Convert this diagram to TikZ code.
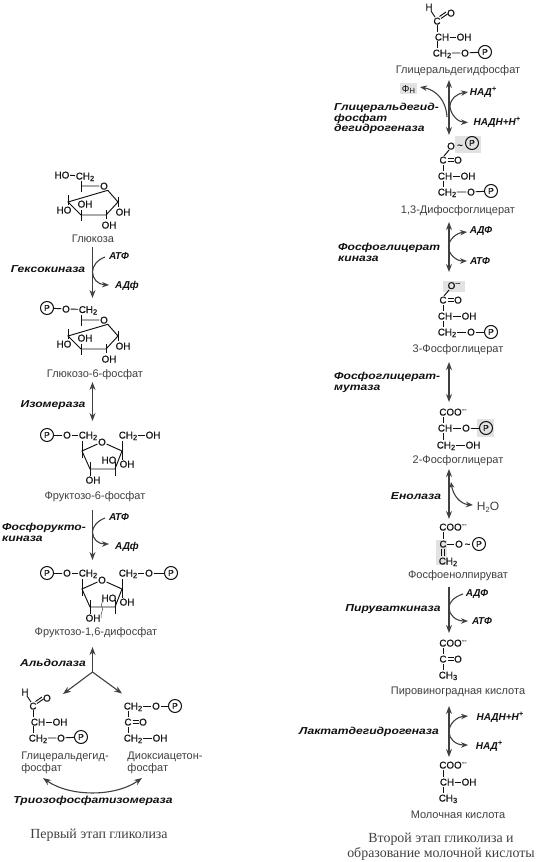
\documentclass[tikz,border=0pt]{standalone}
\usepackage{fontspec}
\setmainfont{Liberation Sans}
\newfontfamily\enzf[FakeStretch=1.2]{Liberation Sans}
\newfontfamily\capf{Liberation Serif}
\newfontfamily\chemf[FakeBold=0.5]{Liberation Sans}
\usetikzlibrary{arrows.meta}
\definecolor{ink}{HTML}{111111}
\definecolor{arr}{HTML}{404040}
\definecolor{shade}{HTML}{E2E2E2}
\newcommand{\ssb}[1]{\raisebox{-0.3ex}{\fontsize{7.5}{8}\selectfont #1}}
\newcommand{\ssp}[1]{\raisebox{0.7ex}{\fontsize{7.5}{8}\selectfont #1}}
\newcommand{\NN}[4]{\node[chem] (#1) at (#2,#3) {#4};}
\newcommand{\PP}[3]{\node[pcirc] (#1) at (#2,#3) {P};}
\newcommand{\LL}[4]{\node[lab] (#1) at (#2,#3) {#4};}
\newcommand{\EE}[4]{\node[enz] (#1) at (#2,#3) {#4};}
\newcommand{\CO}[3]{% C=O group
  \NN{#1c}{#2}{#3}{C}\NN{#1o}{\the\numexpr#2+15\relax}{#3}{O}
  \draw[bond] (#2+4.5,#3-1.3) -- (#2+10.5,#3-1.3);
  \draw[bond] (#2+4.5,#3+1.3) -- (#2+10.5,#3+1.3);}
% pyranose ring
\newcommand{\GluRing}{%
  \NN{ro}{104}{186}{O}
  \draw[bond] (81,186) -- (ro) -- (118,202) -- (106,215) -- (81,215) -- (68,202) -- cycle;
  \draw[bond] (81,181) -- (81,192);
  \draw[bond] (118,197) -- (118,207);
  \draw[bond] (106,210) -- (106,219);
  \draw[bond] (81,210) -- (81,221);
  \draw[bond] (68,195) -- (68,205);
  \NN{a}{64}{210}{HO}\NN{b}{85}{204}{OH}\NN{c}{123}{212}{OH}\NN{d}{109}{225}{OH}}
% furanose ring
\newcommand{\FruRing}{%
  \NN{ro}{102}{442}{O}
  \draw[bond] (ro) -- (82,451) -- (90,469) -- (115,469) -- (122,451) -- (ro);
  \draw[bond] (82,441) -- (82,458);
  \draw[bond] (122,441) -- (122,460);
  \draw[bond] (90,462) -- (90,476);
  \draw[bond] (115,462) -- (115,476);
  \NN{a}{109}{460}{HO}\NN{b}{127}{464}{OH}\NN{c}{93}{480}{OH}
  \NN{l1}{88}{435}{CH\ssb{2}}\NN{l2}{67}{435}{O}\PP{l3}{47}{435}
  \NN{r1}{128}{435}{CH\ssb{2}}
  \draw[bond] (l1) -- (l2) -- (l3);}
% glyceraldehyde phosphate
\newcommand{\GAP}{%
  \NN{h}{25}{692}{H}\NN{c}{33}{706}{C}\NN{o}{47}{698}{O}
  \NN{ch}{38}{722}{CH}\NN{oh}{60}{722}{OH}
  \NN{ct}{38}{738}{CH\ssb{2}}\NN{ot}{61}{738}{O}\PP{p}{81}{737}
  \draw[bond] (27,696) -- (31,702);
  \draw[bond] (35.5,701.5) -- (42,697);
  \draw[bond] (37,703.5) -- (43.5,699);
  \draw[bond] (33,710) -- (33,717);
  \draw[bond] (33,726) -- (33,733);
  \draw[bond] (ch) -- (oh);
  \draw[bond] (ct) -- (ot) -- (p);}
\tikzset{
  chem/.style={inner sep=0.6pt,text=ink,font=\chemf\fontsize{9.8}{10}\selectfont,text height=7pt,text depth=0pt},
  pcirc/.style={circle,draw=ink,line width=1pt,inner sep=0pt,minimum size=13pt,text=ink,font=\chemf\fontsize{8.6}{9}\selectfont},
  bond/.style={draw=ink,line width=0.95pt},
  lab/.style={inner sep=0pt,text=arr,font=\fontsize{11}{12}\selectfont,align=left,anchor=center},
  enz/.style={inner sep=0pt,text=ink,font=\enzf\bfseries\itshape\fontsize{10.1}{10.6}\selectfont,align=left},
  cof/.style={inner sep=0pt,text=ink,font=\bfseries\itshape\fontsize{10}{11}\selectfont},
  rx/.style={draw=arr,line width=1.1pt,-{Stealth[length=8pt,width=6pt]}},
  rxx/.style={draw=arr,line width=1.1pt,{Stealth[length=8pt,width=6pt]}-{Stealth[length=8pt,width=6pt]}},
  side/.style={draw=arr,line width=1.1pt,-{Stealth[length=7pt,width=5.5pt]}},
  gbox/.style={fill=shade,draw=none},
  ttl/.style={inner sep=0pt,text=arr,font=\capf\fontsize{13.9}{14.6}\selectfont,align=center}
}
\begin{document}
\begin{tikzpicture}[x=1pt,y=-1pt]
\useasboundingbox (0,0) rectangle (537,862);
\fill[white] (0,0) rectangle (537,862);
% shaded patches
\node[gbox,minimum width=17pt,minimum height=11pt,inner sep=0pt] (s1) at (408.5,88.5) {};
\node[gbox,minimum width=26pt,minimum height=17pt,inner sep=0pt] (s2) at (468,144.5) {};
\node[gbox,minimum width=22pt,minimum height=11pt,inner sep=0pt] (s3) at (454,286.5) {};
\node[gbox,minimum width=17pt,minimum height=18pt,inner sep=0pt] (s4) at (485.5,428) {};
\node[gbox,minimum width=11pt,minimum height=25pt,inner sep=0pt] (s5) at (441.5,552.5) {};

% ---------- left column ----------
% glucose
\begin{scope}[name prefix=glu-]
  \GluRing
  \NN{ho}{62}{175}{HO}\NN{ch}{85}{176}{CH\ssb{2}}
  \draw[bond] (ho) -- (ch);
\end{scope}
\LL{lglu}{93}{239}{Глюкоза}
% glucose-6-phosphate
\begin{scope}[shift={(0,134)},name prefix=g6-]
  \GluRing
  \NN{ch}{88}{175.5}{CH\ssb{2}}\NN{o}{66}{175}{O}\PP{p}{47}{174}
  \draw[bond] (ch) -- (o) -- (p);
\end{scope}
\LL{lg6}{95}{375}{Глюкозо-6-фосфат}
% fructose-6-phosphate
\begin{scope}[name prefix=f6-]
  \FruRing
  \NN{r2}{153}{435}{OH}
  \draw[bond] (r1) -- (r2);
\end{scope}
\LL{lf6}{95}{497}{Фруктозо-6-фосфат}
% fructose-1,6-diphosphate
\begin{scope}[shift={(0,138)},name prefix=fd-]
  \FruRing
  \NN{r2}{149}{435}{O}\PP{r3}{171}{435}
  \draw[bond] (r1) -- (r2) -- (r3);
  \draw[draw=arr,line width=0.5pt] (102,461) .. controls (104,464) and (100,466) .. (102,469) .. controls (104,472) and (100,475) .. (101,480);
\end{scope}
\LL{lfd}{96}{633}{Фруктозо-1,6-дифосфат}
% GAP (left)
\begin{scope}[name prefix=gl-]
  \GAP
\end{scope}
\LL{lgap}{65}{763}{Глицеральдегид-\\фосфат}
% DHAP
\begin{scope}[name prefix=dh-]
  \NN{c1}{133}{706}{CH\ssb{2}}\NN{o1}{156}{706}{O}\PP{p}{175}{706}
  \CO{k}{128}{722}
  \NN{c3}{133}{738}{CH\ssb{2}}\NN{oh}{160}{738}{OH}
  \draw[bond] (c1) -- (o1) -- (p);
  \draw[bond] (c3) -- (oh);
  \draw[bond] (128,711) -- (128,717);
  \draw[bond] (128,727) -- (128,733);
\end{scope}
\LL{ldh}{165}{763}{Диоксиацетон-\\фосфат}

% reaction arrows left
\coordinate (a1s) at (92.5,247); \coordinate (a1e) at (92.5,298);
\draw[rx] (a1s) -- (a1e);
\node[cof] (a1i) at (119,256) {АТФ}; \node[cof] (a1o) at (127,286) {АДф};
\coordinate (a1a) at (105,257); \coordinate (a1b) at (109,285);
\draw[side] (a1a) .. controls (97,260) and (92.5,266) .. (92.5,272) .. controls (92.5,279) and (98,284.5) .. (a1b);
\EE{e1}{48}{269}{Гексокиназа}

\coordinate (a2s) at (92.5,382); \coordinate (a2e) at (92.5,421);
\draw[rxx] (a2s) -- (a2e);
\EE{e2}{53}{405}{Изомераза}

\coordinate (a3s) at (92.5,510); \coordinate (a3e) at (92.5,560);
\draw[rx] (a3s) -- (a3e);
\node[cof] (a3i) at (119,517) {АТФ}; \node[cof] (a3o) at (127,547) {АДф};
\coordinate (a3a) at (105,518); \coordinate (a3b) at (109,544);
\draw[side] (a3a) .. controls (97,521) and (92.5,527) .. (92.5,532) .. controls (92.5,539) and (98,544) .. (a3b);
\node[enz,anchor=west] (e3) at (2,532.5) {Фосфорукто-\\киназа};

\coordinate (j) at (92.5,672); \coordinate (jt) at (92.5,647);
\coordinate (jl) at (63,694); \coordinate (jr) at (122,693.5);
\draw[rx] (j) -- (jt); \draw[rx] (j) -- (jl); \draw[rx] (j) -- (jr);
\EE{e4}{53}{663}{Альдолаза}

\coordinate (ti1) at (43,778); \coordinate (ti2) at (142,778);
\draw[rxx] (ti1) .. controls (70,797) and (115,797) .. (ti2);
\EE{e5}{93}{801}{Триозофосфатизомераза}
\node[ttl] (t1) at (99,835) {Первый этап гликолиза};

% ---------- right column ----------
\begin{scope}[shift={(404,-685)},name prefix=gr-]
  \GAP
\end{scope}
\LL{l1}{458}{71}{Глицеральдегидфосфат}
\coordinate (b1s) at (449,80); \coordinate (b1e) at (449,135);
\draw[rxx] (b1s) -- (b1e);
\node[chem,font=\fontsize{10}{11}\selectfont] (phn) at (408.5,88.5) {Ф\ssb{Н}};
\coordinate (b1f) at (420,87); \coordinate (b1g) at (447,117);
\draw[side] (b1g) .. controls (446,100) and (436,90) .. (b1f);
\coordinate (b1a) at (468,92); \coordinate (b1b) at (468,122.5);
\draw[side] (450,107) .. controls (450,99) and (456,94) .. (b1a);
\draw[side] (450,107) .. controls (451,115) and (458,122) .. (b1b);
\node[cof] (c1i) at (483,92) {НАД\ssp{+}};
\node[cof] (c1o) at (497,122.5) {НАДН+Н\ssp{+}};
\node[enz,anchor=west] (e6) at (334,118.5) {Глицеральдегид-\\фосфат\\дегидрогеназа};
% 1,3-DPG
\begin{scope}[name prefix=dpg-]
  \NN{o1}{451}{146}{O}\PP{p1}{472}{143}
  \node[chem] (t) at (460,145) {\textasciitilde};
  \draw[bond] (449,150) -- (444,156);
  \CO{k}{443}{160}
  \NN{ch}{445}{176}{CH}\NN{oh}{468}{176}{OH}
  \NN{ct}{447}{192}{CH\ssb{2}}\NN{ot}{471}{192}{O}\PP{p2}{491}{191}
  \draw[bond] (443,165) -- (443,171);
  \draw[bond] (443,181) -- (443,187);
  \draw[bond] (ch) -- (oh);
  \draw[bond] (ct) -- (ot) -- (p2);
\end{scope}
\LL{l2}{458}{211}{1,3-Дифосфоглицерат}
\coordinate (b2s) at (449,222); \coordinate (b2e) at (449,272);
\draw[rxx] (b2s) -- (b2e);
\coordinate (b2a) at (467,232); \coordinate (b2b) at (467,261);
\draw[side] (448.5,247) .. controls (448.5,240) and (456,233) .. (b2a);
\draw[side] (448.5,247) .. controls (448.5,254) and (456,261) .. (b2b);
\node[cof] (c2i) at (481,231) {АДФ}; \node[cof] (c2o) at (480,261) {АТФ};
\node[enz,anchor=west] (e7) at (338,252.5) {Фосфоглицерат\\киназа};
% 3PG
\begin{scope}[name prefix=pg3-]
  \NN{o1}{454}{285.5}{O\ssp{--}}
  \draw[bond] (449,290) -- (444,296);
  \CO{k}{443}{300}
  \NN{ch}{445}{316}{CH}\NN{oh}{469}{316}{OH}
  \NN{ct}{447}{332}{CH\ssb{2}}\NN{ot}{471}{332}{O}\PP{p2}{491}{332}
  \draw[bond] (443,305) -- (443,311);
  \draw[bond] (443,321) -- (443,327);
  \draw[bond] (ch) -- (oh);
  \draw[bond] (ct) -- (ot) -- (p2);
\end{scope}
\LL{l3}{458}{350}{3-Фосфоглицерат}
\coordinate (b3s) at (449,362); \coordinate (b3e) at (449,402);
\draw[rxx] (b3s) -- (b3e);
\node[enz,anchor=west] (e8) at (334,382.5) {Фосфоглицерат-\\мутаза};
% 2PG
\begin{scope}[name prefix=pg2-]
  \NN{coo}{453}{412}{COO\ssp{--}}
  \NN{ch}{445}{428}{CH}\NN{o}{466}{428}{O}\PP{p}{486}{428}
  \NN{ct}{446}{445}{CH\ssb{2}}\NN{oh}{473}{445}{OH}
  \draw[bond] (443,417) -- (443,423);
  \draw[bond] (443,433) -- (443,440);
  \draw[bond] (ch) -- (o) -- (p);
  \draw[bond] (ct) -- (oh);
\end{scope}
\LL{l4}{458}{461}{2-Фосфоглицерат}
\coordinate (b4s) at (449,469); \coordinate (b4e) at (449,519);
\draw[rxx] (b4s) -- (b4e);
\coordinate (b4a) at (451,482); \coordinate (b4b) at (473,505);
\draw[side,{Stealth[length=6pt,width=5pt]}-{Stealth[length=7pt,width=5.5pt]}] (b4a) .. controls (453,495) and (460,504) .. (b4b);
\node[inner sep=0pt,text=arr,font=\fontsize{12}{13}\selectfont] (w) at (488,507) {H\ssb{2}O};
\EE{e9}{416}{496}{Енолаза}
% PEP
\begin{scope}[name prefix=pep-]
  \NN{coo}{453}{527}{COO\ssp{--}}
  \NN{c}{443}{544}{C}\NN{o}{459}{544}{O}\PP{p}{479}{544}
  \NN{ct}{448}{561}{CH\ssb{2}}
  \draw[bond] (443,532) -- (443,539);
  \draw[bond] (441.8,549) -- (441.8,556);
  \draw[bond] (444.2,549) -- (444.2,556);
  \draw[bond] (c) -- (o);
  \node[chem] (t) at (467.5,544) {\textasciitilde};
\end{scope}
\LL{l5}{458}{576}{Фосфоенолпируват}
\coordinate (b5s) at (449,587); \coordinate (b5e) at (449,633);
\draw[rx] (b5s) -- (b5e);
\coordinate (b5a) at (463,594); \coordinate (b5b) at (468,621);
\draw[side] (b5a) .. controls (454,597) and (449,602) .. (449,608) .. controls (449,615) and (456,621) .. (b5b);
\node[cof] (c5i) at (477,594) {АДФ}; \node[cof] (c5o) at (482,621) {АТФ};
\EE{e10}{393}{609}{Пируваткиназа}
% pyruvate
\begin{scope}[name prefix=pyr-]
  \NN{coo}{453}{643}{COO\ssp{--}}
  \CO{k}{443}{659}
  \NN{ct}{448}{675}{CH\ssb{3}}
  \draw[bond] (443,648) -- (443,654);
  \draw[bond] (443,664) -- (443,670);
\end{scope}
\LL{l6}{458}{692}{Пировиноградная кислота}
\coordinate (b6s) at (449,706); \coordinate (b6e) at (449,757);
\draw[rxx] (b6s) -- (b6e);
\coordinate (b6a) at (468,716); \coordinate (b6b) at (468,745);
\draw[side] (449,732) .. controls (449,724) and (456,717) .. (b6a);
\draw[side] (449,732) .. controls (449,739) and (456,745) .. (b6b);
\node[cof] (c6i) at (500,717) {НАДН+Н\ssp{+}};
\node[cof] (c6o) at (489,746) {НАД\ssp{+}};
\EE{e11}{369}{732}{Лактатдегидрогеназа}
% lactate
\begin{scope}[name prefix=lac-]
  \NN{coo}{453}{765}{COO\ssp{--}}
  \NN{ch}{447}{782}{CH}\NN{oh}{469}{782}{OH}
  \NN{ct}{448}{798}{CH\ssb{3}}
  \draw[bond] (443,770) -- (443,777);
  \draw[bond] (443,787) -- (443,793);
  \draw[bond] (ch) -- (oh);
\end{scope}
\LL{l7}{458}{815}{Молочная кислота}
\node[ttl] (t2) at (441,847) {Второй этап гликолиза и\\образование молочной кислоты};
\end{tikzpicture}
\end{document}
